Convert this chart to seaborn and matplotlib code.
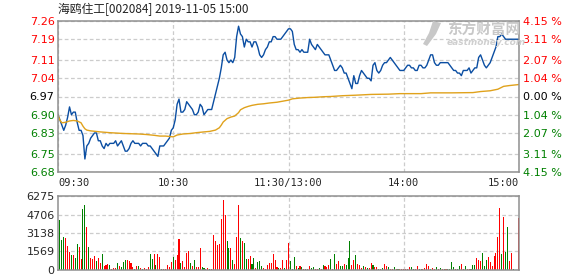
import numpy as np
import pandas as pd
import matplotlib
matplotlib.use("Agg")
import matplotlib.pyplot as plt
from matplotlib.patches import Polygon
import seaborn as sns

# ---------------- data ----------------
title = "海鸥住工[002084] 2019-11-05 15:00"
base_price = 6.97
price_ticks = [6.68, 6.75, 6.83, 6.90, 6.97, 7.04, 7.11, 7.19, 7.26]
pct_labels = ["4.15 %", "3.11 %", "2.07 %", "1.04 %", "0.00 %", "1.04 %", "2.07 %", "3.11 %", "4.15 %"]
time_labels = ["09:30", "10:30", "11:30/13:00", "14:00", "15:00"]
time_ticks = [0, 60, 120, 180, 240]
vol_ticks = [0, 1569, 3138, 4706, 6275]

# minute-by-minute price, 09:30 .. 15:00 (241 points)
prices = [
    6.90, 6.88, 6.86, 6.84, 6.86, 6.89, 6.93, 6.90, 6.91, 6.91,
    6.87, 6.84, 6.84, 6.82, 6.73, 6.78, 6.79, 6.81, 6.82, 6.83,
    6.83, 6.80, 6.80, 6.78, 6.77, 6.79, 6.78, 6.79, 6.79, 6.79,
    6.80, 6.78, 6.79, 6.80, 6.78, 6.76, 6.76, 6.77, 6.79, 6.80,
    6.79, 6.79, 6.79, 6.78, 6.79, 6.79, 6.79, 6.78, 6.78, 6.77,
    6.76, 6.75, 6.74, 6.78, 6.78, 6.78, 6.79, 6.80, 6.81, 6.84,
    6.85, 6.88, 6.94, 6.96, 6.91, 6.91, 6.92, 6.95, 6.94, 6.93,
    6.92, 6.90, 6.90, 6.91, 6.94, 6.93, 6.90, 6.91, 6.92, 6.92,
    6.92, 6.95, 6.98, 7.01, 7.04, 7.08, 7.13, 7.14, 7.11, 7.10,
    7.11, 7.10, 7.12, 7.20, 7.24, 7.21, 7.20, 7.16, 7.19, 7.18,
    7.18, 7.16, 7.18, 7.18, 7.16, 7.13, 7.12, 7.13, 7.15, 7.16,
    7.18, 7.18, 7.20, 7.20, 7.19, 7.19, 7.19, 7.20, 7.21, 7.22,
    7.23, 7.23, 7.22, 7.17, 7.15, 7.15, 7.14, 7.15, 7.14, 7.14,
    7.14, 7.19, 7.17, 7.16, 7.15, 7.17, 7.16, 7.15, 7.14, 7.13,
    7.13, 7.13, 7.11, 7.09, 7.07, 7.07, 7.08, 7.09, 7.08, 7.06,
    7.06, 7.04, 7.02, 7.00, 7.05, 7.02, 7.02, 7.05, 7.07, 7.06,
    7.05, 7.04, 7.04, 7.03, 7.09, 7.10, 7.07, 7.06, 7.07, 7.09,
    7.10, 7.10, 7.11, 7.12, 7.11, 7.10, 7.09, 7.08, 7.07, 7.07,
    7.07, 7.08, 7.09, 7.09, 7.08, 7.08, 7.07, 7.07, 7.09, 7.09,
    7.08, 7.08, 7.09, 7.11, 7.13, 7.13, 7.10, 7.09, 7.09, 7.10,
    7.10, 7.10, 7.10, 7.10, 7.09, 7.08, 7.07, 7.07, 7.06, 7.06,
    7.05, 7.07, 7.07, 7.07, 7.08, 7.06, 7.07, 7.08, 7.08, 7.12,
    7.13, 7.11, 7.09, 7.08, 7.09, 7.10, 7.12, 7.14, 7.16, 7.20,
    7.20, 7.21, 7.20, 7.19, 7.19, 7.19, 7.19, 7.19, 7.19, 7.19,
    7.19,
]

# average price line, read at selected minutes
avg_minutes = [0, 1, 2, 4, 6, 8, 10, 12, 13, 14, 15, 17, 22, 27, 34, 42, 46, 50, 53, 56,
               60, 62, 65, 69, 72, 76, 79, 82, 84, 85, 86, 88, 90, 92, 94, 95, 97, 99, 101, 104,
               107, 110, 114, 117, 120, 122, 126, 130, 134, 138, 142, 148, 155, 163, 172, 178, 189, 194, 205, 216,
               220, 225, 229, 232, 235, 240]
avg_prices = [6.898, 6.879, 6.869, 6.871, 6.876, 6.878, 6.876, 6.869, 6.856, 6.846, 6.841, 6.838, 6.834, 6.831, 6.828, 6.826, 6.824, 6.821, 6.818, 6.818,
              6.815, 6.822, 6.826, 6.828, 6.831, 6.834, 6.836, 6.841, 6.850, 6.860, 6.872, 6.885, 6.891, 6.895, 6.908, 6.919, 6.927, 6.932, 6.936, 6.940,
              6.942, 6.945, 6.948, 6.952, 6.956, 6.961, 6.964, 6.966, 6.967, 6.969, 6.970, 6.973, 6.975, 6.978, 6.979, 6.981, 6.981, 6.984, 6.984, 6.985,
              6.989, 6.992, 6.998, 7.009, 7.012, 7.016]

# per-minute volume (minutes 1..240)
volumes = [
    4263, 2552, 2784, 2697, 2001, 1508, 1305, 1305, 1044, 2175,
    1943, 957, 5133, 5481, 3683, 1914, 1044, 957, 1218, 783,
    1044, 609, 1392, 348, 435, 522, 435, 87, 174, 174,
    609, 348, 261, 696, 870, 870, 783, 609, 261, 87,
    348, 348, 174, 116, 174, 87, 261, 1392, 957, 1392,
    435, 1392, 1131, 87, 87, 87, 435, 261, 696, 1131,
    870, 1305, 2610, 609, 783, 261, 1479, 1653, 609, 348,
    870, 261, 261, 1827, 261, 174, 87, 174, 87, 87,
    2958, 2436, 2088, 2175, 4350, 5916, 4698, 2436, 1827, 1827,
    870, 522, 2784, 5481, 2697, 2436, 2262, 957, 957, 1218,
    522, 1044, 174, 696, 783, 348, 174, 87, 435, 609,
    609, 1392, 870, 261, 174, 174, 870, 174, 870, 2262,
    783, 87, 1131, 348, 174, 348, 261, 87, 87, 87,
    348, 174, 261, 87, 87, 174, 87, 435, 348, 261,
    435, 957, 87, 1392, 522, 783, 348, 348, 522, 435,
    1044, 2436, 435, 870, 1305, 522, 435, 174, 348, 261,
    174, 174, 609, 435, 261, 261, 87, 87, 174, 522,
    348, 261, 87, 87, 261, 87, 87, 87, 87, 87,
    87, 87, 261, 261, 87, 87, 348, 87, 87, 87,
    174, 522, 348, 87, 174, 87, 261, 87, 174, 87,
    87, 87, 87, 87, 696, 261, 87, 87, 348, 522,
    87, 348, 87, 87, 87, 435, 435, 1044, 870, 783,
    1479, 348, 870, 1131, 696, 348, 1218, 1479, 2784, 5220,
    1392, 4524, 1566, 3654, 783, 1479, 87, 0, 0, 4437,
]
# direction of each volume bar: r = up, g = down (10 bars per group)
vol_dir_groups = [
    "gggrrrgrgg", "rrggrgrrrg", "rrgrrrgrrr", "grgggrrrrg", "rgrgrrrggr",
    "grrgrrrrrg", "rrrgrrrrgr", "grrrggrrgr", "rrrrrrrggr", "grrrgrggrr",
    "ggrgggrrrr", "rrrrgrrgrr", "gggrgrgrgr", "rggrrgrgrr", "rgrgrrggrg",
    "ggrrgrrrgr", "grrgrrgrgr", "rgrrgrgrrr", "rrrggrrggr", "rrrgrrgrgr",
    "grggggrggr", "rgrrgggrrr", "gggrrrrrrr", "grggrrgrrr",
]
vol_dirs = list("".join(vol_dir_groups))

# ---------------- style ----------------
sns.set_style("white")
plt.rcParams["font.family"] = ["DejaVu Sans"]

RED = "#ff0000"
GREEN = "#008000"
BLUE = "#0b4ea2"
GOLD = "#e0a21c"
GRID = "#cccccc"
SPINE = "#8f8f8f"
WM = "#c8c8c8"

W, H = 578, 276
fig = plt.figure(figsize=(W / 100, H / 100), dpi=100)
fig.patch.set_facecolor("white")


def fx(px):
    return px / W


def fy(py):
    return 1 - py / H


# watermark (behind the chart)
logo = Polygon([(fx(433), fy(21)), (fx(441), fy(23)), (fx(436), fy(34)), (fx(427), fy(46)),
                (fx(423), fy(44)), (fx(429), fy(33))], closed=True, transform=fig.transFigure,
               facecolor=WM, edgecolor="none", zorder=0)
fig.patches.append(logo)
fig.text(fx(447), fy(29.5), "东方财富网", fontsize=10.5, color=WM, weight="bold",
         va="center", ha="left", family=["Noto Sans CJK SC", "DejaVu Sans"], zorder=0)
fig.text(fx(447), fy(42.5), "eastmoney.com", fontsize=6.5, color="#cfcfcf", weight="bold",
         style="italic", va="center", ha="left", zorder=0)

ax = fig.add_axes([fx(58), fy(172), 461 / W, 151 / H])
axv = fig.add_axes([fx(58), fy(270), 461 / W, 74 / H])
ax.patch.set_alpha(0)

minutes = list(range(len(prices)))
sns.lineplot(x=minutes, y=prices, ax=ax, color=BLUE, linewidth=1.0)
sns.lineplot(x=avg_minutes, y=avg_prices, ax=ax, color=GOLD, linewidth=1.0)


def level_color(v):
    if v > base_price + 1e-9:
        return RED
    if v < base_price - 1e-9:
        return GREEN
    return "black"


ax.set_xlim(0, 240)
ax.set_ylim(price_ticks[0], price_ticks[-1])
ax.set_xticks(time_ticks)
ax.set_xticklabels(time_labels, family="DejaVu Sans Mono", fontsize=7.5)
xl = ax.get_xticklabels()
xl[0].set_ha("left")
xl[-1].set_ha("right")
ax.set_yticks(price_ticks)
ax.set_yticklabels([f"{v:.2f}" for v in price_ticks], fontsize=8)
for lab, v in zip(ax.get_yticklabels(), price_ticks):
    lab.set_color(level_color(v))
ax.tick_params(axis="both", length=0)
ax.tick_params(axis="y", pad=2.5)
ax.tick_params(axis="x", pad=4)
ax.grid(True, color=GRID, linestyle=(0, (3, 2)), linewidth=0.9)
ax.set_xlabel("")
ax.set_ylabel("")
for s in ax.spines.values():
    s.set_color(SPINE)
    s.set_linewidth(1.1)

axr = ax.twinx()
axr.set_ylim(ax.get_ylim())
axr.set_yticks(price_ticks)
axr.set_yticklabels(list(reversed(pct_labels)), fontsize=8)
for lab, v in zip(axr.get_yticklabels(), price_ticks):
    lab.set_color(level_color(v))
axr.tick_params(axis="y", length=0, pad=3)
axr.grid(False)
axr.patch.set_alpha(0)
for s in axr.spines.values():
    s.set_visible(False)

# volume bars
vdf = pd.DataFrame({"minute": list(range(1, len(volumes) + 1)),
                    "volume": volumes,
                    "dir": vol_dirs[:len(volumes)]})
axv.grid(True, color=GRID, linestyle=(0, (3, 2)), linewidth=0.9)
axv.set_axisbelow(True)
sns.histplot(data=vdf, x="minute", weights="volume", hue="dir",
             palette={"r": RED, "g": GREEN}, discrete=True, shrink=0.55,
             multiple="layer", alpha=1.0, linewidth=0, legend=False, ax=axv)
axv.set_xlim(0, 240)
axv.set_ylim(0, vol_ticks[-1])
axv.set_yticks(vol_ticks)
axv.set_yticklabels([str(v) for v in vol_ticks], fontsize=8)
axv.set_xticks([60, 120, 180])
axv.set_xticklabels([])
axv.tick_params(axis="both", length=0)
axv.tick_params(axis="y", pad=2.5)
axv.set_xlabel("")
axv.set_ylabel("")
for s in axv.spines.values():
    s.set_color(SPINE)
    s.set_linewidth(1.1)

# title
fig.text(fx(58), fy(9), title, fontsize=8.5, color="#222222", va="center", ha="left",
         family=["Noto Sans CJK SC", "DejaVu Sans"])

fig.savefig("out.png", dpi=100, facecolor="white")
